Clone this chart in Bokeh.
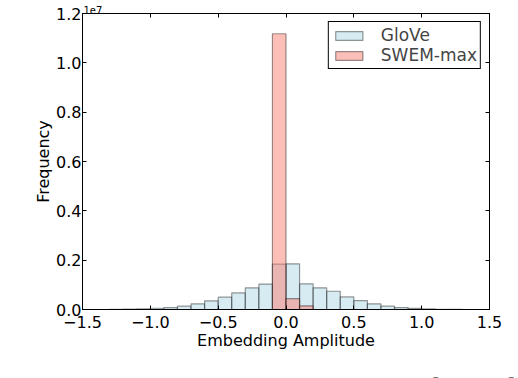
import numpy as np
from bokeh.plotting import figure
from bokeh.layouts import column
from bokeh.models import (Range1d, LinearAxis, FixedTicker, CustomJSTickFormatter,
                          Legend, LegendItem, Div)
from bokeh.embed import file_html
from bokeh.resources import INLINE

# ---------------- data ----------------
bin_width = 0.1
glove_left_edges = [-1.3, -1.2, -1.1, -1.0, -0.9, -0.8, -0.7, -0.6, -0.5, -0.4, -0.3, -0.2, -0.1,
                    0.0, 0.1, 0.2, 0.3, 0.4, 0.5, 0.6, 0.7, 0.8, 0.9, 1.0, 1.1, 1.2]
glove_counts = [5e3, 12e3, 25e3, 50e3, 80e3, 135e3, 230e3, 350e3, 500e3, 670e3, 880e3, 1030e3, 1840e3,
                1850e3, 1040e3, 880e3, 740e3, 510e3, 360e3, 230e3, 135e3, 80e3, 45e3, 22e3, 10e3, 4e3]
swem_left_edges = [-0.1, 0.0, 0.1]
swem_counts = [11180e3, 440e3, 150e3]

x_ticks = [-1.5, -1.0, -0.5, 0.0, 0.5, 1.0, 1.5]
y_ticks = [0, 2e6, 4e6, 6e6, 8e6, 10e6, 12e6]
series_names = ["GloVe", "SWEM-max"]
x_label = "Embedding Amplitude"
y_label = "Frequency"
offset_text = "1e7"
caption_words = ["Figure", "1:", "Histograms", "for", "learned", "word"]

FONT = "DejaVu Sans"

p = figure(width=518, height=370, output_backend="svg", toolbar_location=None,
           x_range=Range1d(-1.5, 1.5), y_range=Range1d(0, 1.2e7),
           min_border_left=82, min_border_right=29, min_border_top=13, min_border_bottom=61)
p.xgrid.visible = False
p.ygrid.visible = False
p.outline_line_color = "black"
p.outline_line_alpha = 1
p.outline_line_width = 1
p.background_fill_color = "white"
p.border_fill_color = "white"

# matplotlib-style offset text shown as the (left aligned) title
p.title.text = offset_text
p.title.text_font = FONT
p.title.text_font_size = "10px"
p.title.text_font_style = "normal"
p.title.text_color = "black"
p.title.align = "left"
p.title.offset = 1
p.title.standoff = 0

gl = np.array(glove_left_edges)
sl = np.array(swem_left_edges)
r_glove = p.quad(left=gl, right=gl + bin_width, bottom=0, top=glove_counts,
                 fill_color="#add8e6", fill_alpha=0.5,
                 line_color="black", line_alpha=0.4, line_width=1.2)
r_swem = p.quad(left=sl, right=sl + bin_width, bottom=0, top=swem_counts,
                fill_color="#fa8072", fill_alpha=0.5,
                line_color="black", line_alpha=0.4, line_width=1.2)

# axes
xa = p.xaxis[0]
xa.ticker = FixedTicker(ticks=x_ticks)
xa.formatter = CustomJSTickFormatter(code="return tick.toFixed(1).replace('-', '\\u2212');")
ya = p.yaxis[0]
ya.ticker = FixedTicker(ticks=y_ticks)
ya.formatter = CustomJSTickFormatter(code="return (tick/1e7).toFixed(1);")
for ax in (xa, ya):
    ax.major_tick_in = 4
    ax.major_tick_out = 0
    ax.minor_tick_in = 0
    ax.minor_tick_out = 0
    ax.major_tick_line_color = "black"
    ax.axis_line_color = "black"
    ax.major_label_text_font = FONT
    ax.major_label_text_font_size = "16px"
    ax.major_label_text_color = "black"
    ax.axis_label_text_font = FONT
    ax.axis_label_text_font_size = "16px"
    ax.axis_label_text_font_style = "normal"
    ax.axis_label_text_color = "black"
xa.axis_label = x_label
xa.major_label_standoff = 6
xa.axis_label_standoff = 0
ya.axis_label = y_label
ya.major_label_standoff = 1
ya.axis_label_standoff = 0

blank = "return '';"
top_ax = LinearAxis(ticker=FixedTicker(ticks=x_ticks), formatter=CustomJSTickFormatter(code=blank),
                    major_tick_in=4, major_tick_out=0, minor_tick_in=0, minor_tick_out=0,
                    major_label_standoff=0, major_label_text_font_size="1px")
right_ax = LinearAxis(ticker=FixedTicker(ticks=y_ticks), formatter=CustomJSTickFormatter(code=blank),
                      major_tick_in=4, major_tick_out=0, minor_tick_in=0, minor_tick_out=0,
                      major_label_standoff=0, major_label_text_font_size="1px")
p.add_layout(top_ax, "above")
p.add_layout(right_ax, "right")

legend = Legend(items=[LegendItem(label=series_names[0], renderers=[r_glove]),
                       LegendItem(label=series_names[1], renderers=[r_swem])],
                location="top_right", margin=8, padding=3, spacing=0,
                glyph_width=34, glyph_height=11, label_height=20, label_standoff=15,
                label_text_font=FONT, label_text_font_size="17px",
                border_line_color="black", border_line_width=1, border_line_alpha=1,
                background_fill_color="white", background_fill_alpha=1)
p.add_layout(legend)

# the clipped first line of the source figure's caption, below the chart
caption_left = [-20, 79, 134, 297, 349, 452]
spans = "".join(
    '<span style="position:absolute;left:%dpx;top:0px;">%s</span>' % (x, w)
    for x, w in zip(caption_left, caption_words))
caption = Div(text='<div style="position:relative;width:518px;height:8px;overflow:hidden;'
                   'font-family:\'Liberation Serif\';font-size:31px;line-height:31px;'
                   'color:black;white-space:nowrap;">' + spans + '</div>',
              width=518, height=8, margin=0, styles={"overflow": "hidden"})

layout = column(p, caption, spacing=0)
open("out.html", "w").write(file_html(layout, INLINE))
